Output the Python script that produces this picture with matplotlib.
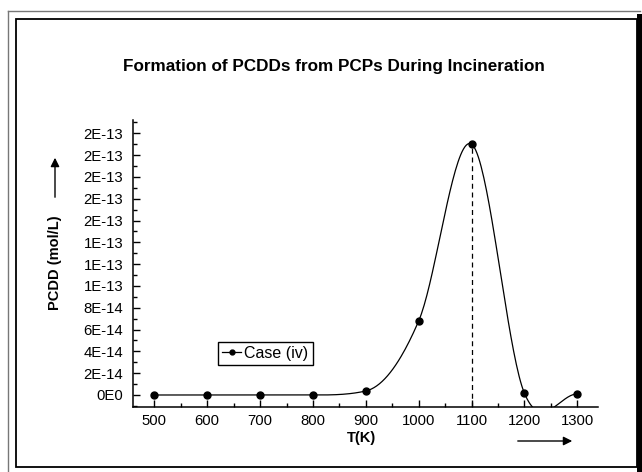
import numpy as np
import matplotlib
matplotlib.use("Agg")
import matplotlib.pyplot as plt
from matplotlib.lines import Line2D
from matplotlib.patches import Rectangle, FancyArrowPatch
from matplotlib.ticker import FixedLocator, MultipleLocator, FixedFormatter

plt.rcParams.update({
    "font.family": ["Liberation Sans", "DejaVu Sans"],
    "font.size": 9,
})

W, H = 642, 472

# data
temps = [500, 600, 700, 800, 900, 1000, 1100, 1200, 1300]
pcdd = [0.0, 0.0, 0.0, 0.0, 3.7e-15, 6.8e-14, 2.30e-13, 1.5e-15, 1.0e-15]
y_ticks = [0, 2e-14, 4e-14, 6e-14, 8e-14, 1e-13, 1.2e-13, 1.4e-13,
           1.6e-13, 1.8e-13, 2.0e-13, 2.2e-13, 2.4e-13]
y_tick_labels = ["0E0", "2E-14", "4E-14", "6E-14", "8E-14", "1E-13", "1E-13",
                 "1E-13", "2E-13", "2E-13", "2E-13", "2E-13", "2E-13"]
x_ticks = [500, 600, 700, 800, 900, 1000, 1100, 1200, 1300]
peak_t = 1100
series_name = "Case (iv)"


def smooth_curve(x, y, n=40):
    # cardinal (Catmull-Rom) spline, with the tangent cut back on rising steps
    x = np.asarray(x, float)
    y = np.asarray(y, float)
    m = np.zeros_like(y)
    m[1:-1] = (y[2:] - y[:-2]) / 2
    m[0] = y[1] - y[0]
    m[-1] = y[-1] - y[-2]
    d = np.diff(y)
    for i in range(len(d)):
        if d[i] >= 0:
            m[i + 1] = min(m[i + 1], 3 * d[i])
    xs, ys = [], []
    for i in range(len(x) - 1):
        t = np.linspace(0, 1, n)
        h00 = 2 * t**3 - 3 * t**2 + 1
        h10 = t**3 - 2 * t**2 + t
        h01 = -2 * t**3 + 3 * t**2
        h11 = t**3 - t**2
        xs.append(x[i] + t * (x[i + 1] - x[i]))
        ys.append(h00 * y[i] + h10 * m[i] + h01 * y[i + 1] + h11 * m[i + 1])
    return np.concatenate(xs), np.concatenate(ys)


def fx(px):
    return px / W


def fy(py):
    return 1 - py / H


fig = plt.figure(figsize=(W / 100, H / 100), dpi=100)
fig.patch.set_facecolor("white")

# page frame
fig.add_artist(Line2D([fx(8), fx(8)], [fy(11), fy(472)], color="#777777", lw=1.0))
fig.add_artist(Line2D([fx(8), fx(640)], [fy(11), fy(11)], color="#777777", lw=1.0))
fig.add_artist(Rectangle((fx(16), fy(467)), fx(637) - fx(16), fy(19) - fy(467),
                         fill=False, edgecolor="black", lw=1.3))
fig.add_artist(Rectangle((fx(637), 0), fx(642) - fx(637), fy(14),
                         facecolor="black", edgecolor="none"))

ax = fig.add_axes([fx(133), fy(406.7), fx(598) - fx(133), fy(120) - fy(406.7)])
ax.set_xlim(459.7, 1339)
ax.set_ylim(-1.073e-14, 2.522e-13)

cx, cy = smooth_curve(temps, pcdd)
ax.plot(cx, cy, color="black", lw=0.9)
ax.plot(temps, pcdd, "o", color="black", ms=5)
ax.vlines(peak_t, -1.073e-14, pcdd[temps.index(peak_t)], colors="black",
          linestyles=(0, (4, 3)), lw=0.9)

ax.yaxis.set_major_locator(FixedLocator(y_ticks))
ax.yaxis.set_major_formatter(FixedFormatter(y_tick_labels))
ax.yaxis.set_minor_locator(MultipleLocator(1e-14))
ax.xaxis.set_major_locator(FixedLocator(x_ticks))
ax.xaxis.set_minor_locator(MultipleLocator(50))
ax.tick_params(which="major", direction="in", length=5, width=1, labelsize=10.7)
ax.tick_params(which="minor", direction="in", length=3, width=1)
ax.tick_params(axis="y", which="major", pad=7)
ax.tick_params(axis="x", which="major", pad=5)
for s in ("top", "right"):
    ax.spines[s].set_visible(False)
for s in ("left", "bottom"):
    ax.spines[s].set_linewidth(1.1)

handle = Line2D([], [], color="black", marker="o", ms=3.5, lw=0.9)
leg = ax.legend([handle], [series_name], loc="upper left",
                bbox_to_anchor=(0.183, 0.2257), borderaxespad=0, fancybox=False,
                edgecolor="black", framealpha=1, handlelength=1.2, handletextpad=0.2,
                borderpad=0.25, fontsize=11.5)
leg.get_frame().set_linewidth(1.0)

fig.text(fx(334), fy(67), "Formation of PCDDs from PCPs During Incineration",
         ha="center", va="center", fontsize=12.3, fontweight="bold")
fig.text(fx(55), fy(263), "PCDD (mol/L)", rotation=90, ha="center", va="center",
         fontsize=10.5, fontweight="bold")
fig.text(fx(362), fy(438), "T(K)", ha="center", va="center", fontsize=10.5,
         fontweight="bold")
fig.add_artist(FancyArrowPatch((fx(55), fy(200)), (fx(55), fy(155)),
                               transform=fig.transFigure, arrowstyle="-|>",
                               mutation_scale=13, lw=1.0, color="black"))
fig.add_artist(FancyArrowPatch((fx(515), fy(441)), (fx(575), fy(441)),
                               transform=fig.transFigure, arrowstyle="-|>",
                               mutation_scale=13, lw=1.0, color="black"))

fig.savefig("out.png", dpi=100, facecolor="white")
